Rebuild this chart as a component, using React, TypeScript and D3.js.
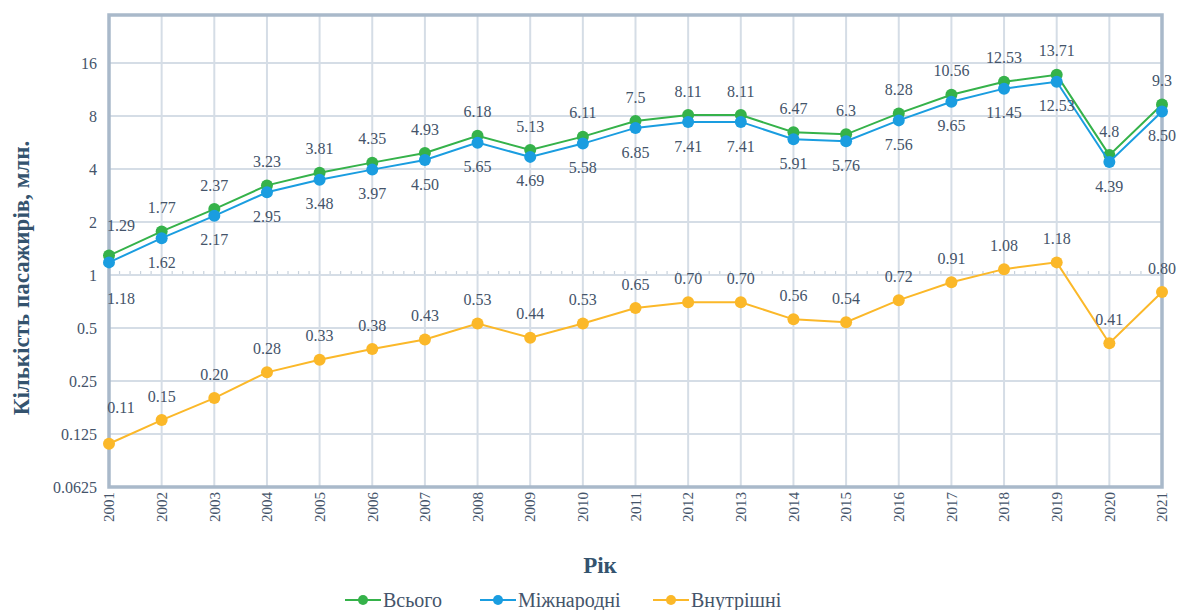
import React, { useRef, useEffect } from 'react';
import * as d3 from 'd3';

const years = ['2001', '2002', '2003', '2004', '2005', '2006', '2007', '2008', '2009', '2010', '2011',
  '2012', '2013', '2014', '2015', '2016', '2017', '2018', '2019', '2020', '2021'];
const totalValues = [1.29, 1.77, 2.37, 3.23, 3.81, 4.35, 4.93, 6.18, 5.13, 6.11, 7.5, 8.11, 8.11, 6.47, 6.3, 8.28, 10.56, 12.53, 13.71, 4.8, 9.3];
const totalLabels = ['1.29', '1.77', '2.37', '3.23', '3.81', '4.35', '4.93', '6.18', '5.13', '6.11', '7.5', '8.11', '8.11', '6.47', '6.3', '8.28', '10.56', '12.53', '13.71', '4.8', '9.3'];
const intlValues = [1.18, 1.62, 2.17, 2.95, 3.48, 3.97, 4.5, 5.65, 4.69, 5.58, 6.85, 7.41, 7.41, 5.91, 5.76, 7.56, 9.65, 11.45, 12.53, 4.39, 8.5];
const intlLabels = ['1.18', '1.62', '2.17', '2.95', '3.48', '3.97', '4.50', '5.65', '4.69', '5.58', '6.85', '7.41', '7.41', '5.91', '5.76', '7.56', '9.65', '11.45', '12.53', '4.39', '8.50'];
const domValues = [0.11, 0.15, 0.2, 0.28, 0.33, 0.38, 0.43, 0.53, 0.44, 0.53, 0.65, 0.7, 0.7, 0.56, 0.54, 0.72, 0.91, 1.08, 1.18, 0.41, 0.8];
const domLabels = ['0.11', '0.15', '0.20', '0.28', '0.33', '0.38', '0.43', '0.53', '0.44', '0.53', '0.65', '0.70', '0.70', '0.56', '0.54', '0.72', '0.91', '1.08', '1.18', '0.41', '0.80'];
const yTicks = [0.0625, 0.125, 0.25, 0.5, 1, 2, 4, 8, 16];
const yMax = 30;

const seriesNames = ['Всього', 'Міжнародні', 'Внутрішні'];
const seriesColors = ['#35b24a', '#1a9de0', '#fbb829'];

export default function App() {
  const svgRef = useRef<SVGSVGElement>(null);

  useEffect(() => {
    const svg = d3.select(svgRef.current);
    svg.selectAll('*').remove();

    const textColor = '#44546a';
    const left = 109, right = 1162, top = 15, bottom = 487;

    const x = d3.scalePoint().domain(years).range([left, right]);
    const y = d3.scaleLog().base(2).domain([yTicks[0], yMax]).range([bottom, top]);

    // grid
    const grid = svg.append('g');
    grid.selectAll('line.h').data(yTicks).enter().append('line')
      .attr('x1', left).attr('x2', right)
      .attr('y1', d => y(d)).attr('y2', d => y(d))
      .attr('stroke', '#d5dde6').attr('stroke-width', 2);
    grid.selectAll('line.v').data(years).enter().append('line')
      .attr('x1', d => x(d)!).attr('x2', d => x(d)!)
      .attr('y1', top).attr('y2', bottom)
      .attr('stroke', '#d5dde6').attr('stroke-width', 2);

    // minor ticks on the line at 1
    const step = (right - left) / (years.length - 1) / 5;
    const minor = d3.range(left, right, step);
    grid.selectAll('line.m').data(minor).enter().append('line')
      .attr('x1', d => d).attr('x2', d => d)
      .attr('y1', y(1) - 1).attr('y2', y(1) - 4)
      .attr('stroke', '#c8d2dc').attr('stroke-width', 1.2);

    // frame
    svg.append('rect')
      .attr('x', left).attr('y', top)
      .attr('width', right - left).attr('height', bottom - top)
      .attr('fill', 'none').attr('stroke', '#a9b9ca').attr('stroke-width', 3.5);

    // y tick labels
    svg.append('g').selectAll('text').data(yTicks).enter().append('text')
      .attr('x', 97).attr('y', d => y(d)).attr('dy', '0.35em')
      .attr('text-anchor', 'end')
      .attr('font-size', 16).attr('fill', textColor)
      .text(d => String(d));

    // x tick labels
    svg.append('g').selectAll('text').data(years).enter().append('text')
      .attr('transform', d => `translate(${x(d)}, 492) rotate(-90)`)
      .attr('dy', '0.35em')
      .attr('text-anchor', 'end')
      .attr('font-size', 15).attr('fill', textColor)
      .text(d => d);

    const line = d3.line<number>()
      .x((d, i) => x(years[i])!)
      .y(d => y(d));

    const allSeries = [totalValues, intlValues, domValues];
    allSeries.forEach((vals, s) => {
      svg.append('path')
        .datum(vals)
        .attr('fill', 'none')
        .attr('stroke', seriesColors[s])
        .attr('stroke-width', 2)
        .attr('d', line);
      svg.append('g').selectAll('circle').data(vals).enter().append('circle')
        .attr('cx', (d, i) => x(years[i])!)
        .attr('cy', d => y(d))
        .attr('r', 6)
        .attr('fill', seriesColors[s]);
    });

    // data labels
    const addLabels = (vals: number[], labels: string[], below: boolean) => {
      svg.append('g').selectAll('text').data(vals).enter().append('text')
        .attr('x', (d, i) => x(years[i])! + (i === 0 ? 12 : 0))
        .attr('y', (d, i) => {
          let off = below ? 24 : -24;
          if (i === 0) off = below ? 36 : (vals === domValues ? -36 : -30);
          return y(d) + off;
        })
        .attr('dy', '0.35em')
        .attr('text-anchor', 'middle')
        .attr('font-size', 16).attr('fill', textColor)
        .text((d, i) => labels[i]);
    };
    addLabels(totalValues, totalLabels, false);
    addLabels(intlValues, intlLabels, true);
    addLabels(domValues, domLabels, false);

    // axis titles
    svg.append('text')
      .attr('transform', `translate(29, ${(top + bottom) / 2 + 27}) rotate(-90)`)
      .attr('text-anchor', 'middle')
      .attr('font-size', 23).attr('font-weight', 'bold')
      .attr('fill', '#34536e')
      .text('Кількість пасажирів, млн.');

    svg.append('text')
      .attr('x', 600).attr('y', 573)
      .attr('text-anchor', 'middle')
      .attr('font-size', 23).attr('font-weight', 'bold')
      .attr('fill', '#34536e')
      .text('Рік');

    // legend
    const legendX = [345, 480, 653];
    seriesNames.forEach((name, s) => {
      const g = svg.append('g').attr('transform', `translate(${legendX[s]}, 600)`);
      g.append('line').attr('x1', 0).attr('x2', 36).attr('y1', 0).attr('y2', 0)
        .attr('stroke', seriesColors[s]).attr('stroke-width', 2);
      g.append('circle').attr('cx', 18).attr('cy', 0).attr('r', 5).attr('fill', seriesColors[s]);
      g.append('text').attr('x', 38).attr('y', 0).attr('dy', '0.35em')
        .attr('font-size', 20).attr('fill', textColor)
        .text(name);
    });
  }, []);

  return (
    <div className="App">
      <svg ref={svgRef} width={1178} height={610}
        style={{ position: 'absolute', left: 0, top: 0, fontFamily: "'Liberation Serif', 'DejaVu Serif', serif" }}></svg>
    </div>
  );
}
